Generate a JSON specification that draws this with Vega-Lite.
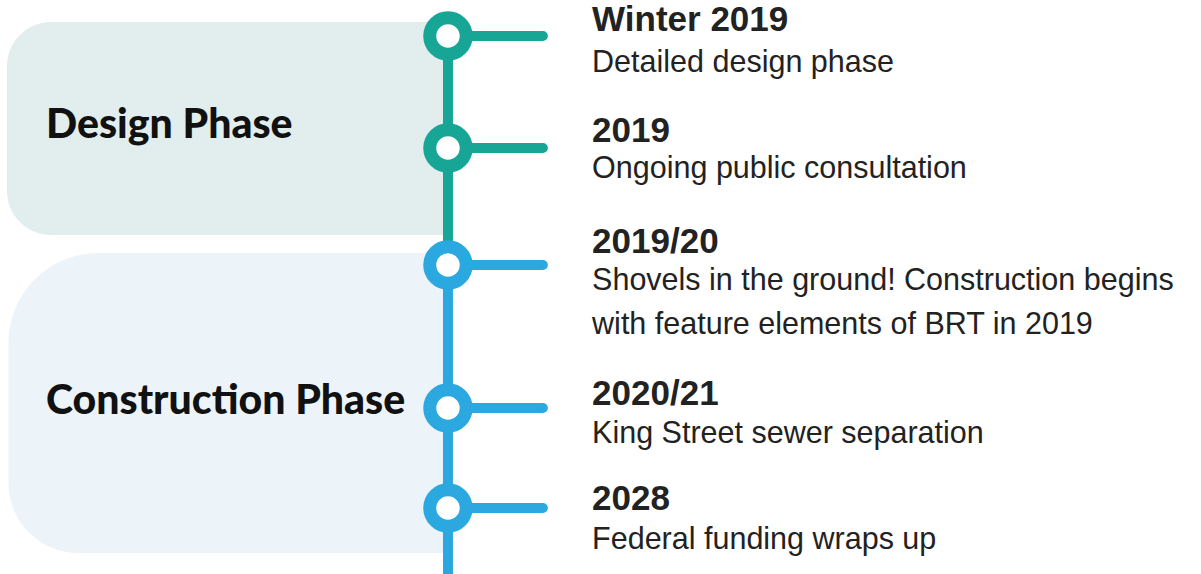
{
  "$schema": "https://vega.github.io/schema/vega-lite/v6.json",
  "width": 1201,
  "height": 574,
  "autosize": {"type": "none"},
  "padding": 0,
  "background": "#ffffff",
  "config": {"view": {"stroke": null}, "axis": {"disable": true}},
  "datasets": {
    "phases": [
      {"phase": "Design", "label": "Design Phase", "start": 0.875, "end": 2.744, "mid": 1.8, "trackStart": 1, "trackEnd": 2.8},
      {"phase": "Construction", "label": "Construction Phase", "start": 2.897, "end": 5.45, "mid": 3.96, "trackStart": 2.8, "trackEnd": 6}
    ],
    "events": [
      {"order": 1, "phase": "Design", "when": "Winter 2019"},
      {"order": 2, "phase": "Design", "when": "2019"},
      {"order": 3, "phase": "Construction", "when": "2019/20"},
      {"order": 4, "phase": "Construction", "when": "2020/21"},
      {"order": 5, "phase": "Construction", "when": "2028"}
    ],
    "lines": [
      {"line": 1, "kind": "title", "text": "Winter 2019"},
      {"line": 2, "kind": "desc", "text": "Detailed design phase"},
      {"line": 3, "kind": "title", "text": "2019"},
      {"line": 4, "kind": "desc", "text": "Ongoing public consultation"},
      {"line": 5, "kind": "title", "text": "2019/20"},
      {"line": 6, "kind": "desc", "text": "Shovels in the ground! Construction begins"},
      {"line": 7, "kind": "desc", "text": "with feature elements of BRT in 2019"},
      {"line": 8, "kind": "title", "text": "2020/21"},
      {"line": 9, "kind": "desc", "text": "King Street sewer separation"},
      {"line": 10, "kind": "title", "text": "2028"},
      {"line": 11, "kind": "desc", "text": "Federal funding wraps up"}
    ]
  },
  "resolve": {"scale": {"y": "independent", "color": "independent", "fill": "independent", "stroke": "independent"}},
  "layer": [
    {
      "data": {"name": "phases"},
      "transform": [{"filter": "datum.phase === 'Design'"}],
      "mark": {"type": "rect", "cornerRadiusTopLeft": 44, "cornerRadiusBottomLeft": 44, "color": "#e2eeee"},
      "encoding": {
        "x": {"datum": 0.58, "type": "quantitative", "scale": {"domain": [0, 100], "nice": false, "zero": false}},
        "x2": {"datum": 37.4},
        "y": {"field": "start", "type": "quantitative", "scale": {"domain": [0, 1, 2, 3, 4, 5, 6], "range": [-76, 36, 148, 265, 408, 508, 608], "nice": false, "zero": false}},
        "y2": {"field": "end"}
      }
    },
    {
      "data": {"name": "phases"},
      "transform": [{"filter": "datum.phase === 'Construction'"}],
      "mark": {"type": "rect", "cornerRadiusTopLeft": 90, "cornerRadiusBottomLeft": 70, "color": "#ecf4f9"},
      "encoding": {
        "x": {"datum": 0.7, "type": "quantitative", "scale": {"domain": [0, 100], "nice": false, "zero": false}},
        "x2": {"datum": 37.4},
        "y": {"field": "start", "type": "quantitative", "scale": {"domain": [0, 1, 2, 3, 4, 5, 6], "range": [-76, 36, 148, 265, 408, 508, 608], "nice": false, "zero": false}},
        "y2": {"field": "end"}
      }
    },
    {
      "data": {"name": "phases"},
      "mark": {"type": "rule", "strokeWidth": 10},
      "encoding": {
        "x": {"datum": 37.3, "type": "quantitative", "scale": {"domain": [0, 100], "nice": false, "zero": false}},
        "y": {"field": "trackStart", "type": "quantitative", "scale": {"domain": [0, 1, 2, 3, 4, 5, 6], "range": [-76, 36, 148, 265, 408, 508, 608], "nice": false, "zero": false}},
        "y2": {"field": "trackEnd"},
        "color": {"field": "phase", "type": "nominal", "scale": {"domain": ["Design", "Construction"], "range": ["#17a596", "#2ba8e0"]}, "legend": null}
      }
    },
    {
      "data": {"name": "events"},
      "mark": {"type": "rule", "strokeWidth": 10, "strokeCap": "round"},
      "encoding": {
        "x": {"datum": 37.3, "type": "quantitative", "scale": {"domain": [0, 100], "nice": false, "zero": false}},
        "x2": {"datum": 45.2},
        "y": {"field": "order", "type": "quantitative", "scale": {"domain": [0, 1, 2, 3, 4, 5, 6], "range": [-76, 36, 148, 265, 408, 508, 608], "nice": false, "zero": false}},
        "color": {"field": "phase", "type": "nominal", "scale": {"domain": ["Design", "Construction"], "range": ["#17a596", "#2ba8e0"]}, "legend": null}
      }
    },
    {
      "data": {"name": "events"},
      "mark": {"type": "point", "shape": "circle", "filled": false, "fill": "#ffffff", "fillOpacity": 1, "strokeWidth": 13, "size": 1330, "opacity": 1},
      "encoding": {
        "x": {"datum": 37.3, "type": "quantitative", "scale": {"domain": [0, 100], "nice": false, "zero": false}},
        "y": {"field": "order", "type": "quantitative", "scale": {"domain": [0, 1, 2, 3, 4, 5, 6], "range": [-76, 36, 148, 265, 408, 508, 608], "nice": false, "zero": false}},
        "stroke": {"field": "phase", "type": "nominal", "scale": {"domain": ["Design", "Construction"], "range": ["#17a596", "#2ba8e0"]}, "legend": null}
      }
    },
    {
      "data": {"name": "phases"},
      "mark": {"type": "text", "align": "left", "baseline": "middle", "font": "Lato", "fontWeight": 900, "fontSize": 41, "color": "#111111"},
      "encoding": {
        "x": {"datum": 3.83, "type": "quantitative", "scale": {"domain": [0, 100], "nice": false, "zero": false}},
        "y": {"field": "mid", "type": "quantitative", "scale": {"domain": [0, 1, 2, 3, 4, 5, 6], "range": [-76, 36, 148, 265, 408, 508, 608], "nice": false, "zero": false}},
        "text": {"field": "label"}
      }
    },
    {
      "data": {"name": "lines"},
      "transform": [{"filter": "datum.kind === 'title'"}],
      "mark": {"type": "text", "align": "left", "baseline": "middle", "font": "Liberation Sans", "fontWeight": "bold", "fontSize": 35, "color": "#222222"},
      "encoding": {
        "x": {"datum": 49.3, "type": "quantitative", "scale": {"domain": [0, 100], "nice": false, "zero": false}},
        "y": {"field": "line", "type": "quantitative", "scale": {"domain": [1, 2, 3, 4, 5, 6, 7, 8, 9, 10, 11], "range": [20, 63, 131, 169, 242, 281, 325, 394, 434, 499, 540], "nice": false, "zero": false}},
        "text": {"field": "text"}
      }
    },
    {
      "data": {"name": "lines"},
      "transform": [{"filter": "datum.kind === 'desc'"}],
      "mark": {"type": "text", "align": "left", "baseline": "middle", "font": "Liberation Sans", "fontSize": 30.5, "color": "#222222"},
      "encoding": {
        "x": {"datum": 49.3, "type": "quantitative", "scale": {"domain": [0, 100], "nice": false, "zero": false}},
        "y": {"field": "line", "type": "quantitative", "scale": {"domain": [1, 2, 3, 4, 5, 6, 7, 8, 9, 10, 11], "range": [20, 63, 131, 169, 242, 281, 325, 394, 434, 499, 540], "nice": false, "zero": false}},
        "text": {"field": "text"}
      }
    }
  ]
}
